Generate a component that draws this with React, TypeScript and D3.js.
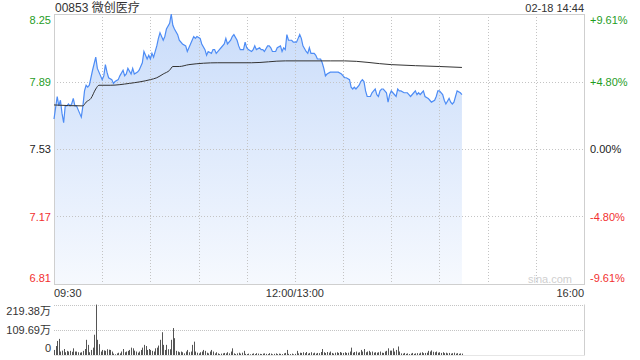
import React from 'react';
import * as d3 from 'd3';

const title = '00853 微创医疗';
const stamp = '02-18 14:44';
const priceTicks = [8.25, 7.89, 7.53, 7.17, 6.81];
const priceTickLabels = ['8.25', '7.89', '7.53', '7.17', '6.81'];
const pctTickLabels = ['+9.61%', '+4.80%', '0.00%', '-4.80%', '-9.61%'];
const timeTickMinutes = [0, 150, 330];
const timeTickLabels = ['09:30', '12:00/13:00', '16:00'];
const gridMinutes = [30, 60, 90, 120, 150, 180, 210, 240, 270, 300];
const volTickValues = [219.38, 109.69, 0];
const volTickLabels = ['219.38万', '109.69万', '0'];

const minutes = [
  0, 2, 3, 4, 5, 6, 7, 8, 9, 10, 11, 12, 13, 14, 16, 17, 18, 19, 20, 21, 22, 24, 26, 27, 29, 30, 31, 32, 33, 34,
  36, 37, 38, 40, 41, 43, 44, 45, 46, 48, 49, 50, 52, 53, 55, 56, 58, 59, 60, 61, 62, 64, 65, 66, 68, 69, 70, 72, 73, 74,
  75, 77, 78, 80, 82, 83, 84, 85, 87, 88, 89, 91, 92, 94, 95, 96, 98, 99, 100, 101, 103, 104, 106, 107, 108, 110, 111, 112, 114, 115,
  116, 118, 119, 120, 121, 123, 124, 125, 126, 128, 129, 130, 131, 133, 134, 135, 136, 138, 139, 141, 142, 143, 144, 145, 146, 148, 149, 150, 151, 152,
  153, 154, 155, 157, 158, 159, 160, 162, 163, 164, 166, 167, 168, 169, 170, 172, 173, 175, 176, 177, 179, 180, 181, 182, 184, 185, 186, 187, 188, 190,
  191, 192, 193, 194, 195, 197, 198, 199, 200, 201, 202, 203, 204, 205, 206, 207, 208, 209, 210, 211, 213, 214, 215, 216, 218, 220, 221, 222, 224, 225,
  226, 227, 228, 229, 230, 231, 233, 234, 235, 237, 238, 239, 240, 242, 243, 244, 246, 247, 248, 249, 250, 251, 253, 254,
];
const prices = [
  7.69, 7.81, 7.76, 7.79, 7.72, 7.67, 7.76, 7.76, 7.77, 7.76, 7.77, 7.8, 7.76, 7.76, 7.72, 7.7, 7.76, 7.84, 7.87, 7.86, 7.87, 7.95, 8.02, 7.96, 7.92, 7.9, 7.92, 7.98, 7.94, 7.91,
  7.9, 7.88, 7.89, 7.9, 7.92, 7.95, 7.92, 7.93, 7.96, 7.93, 7.96, 7.93, 7.94, 7.95, 7.99, 8.05, 8.01, 8.03, 8.01, 8.04, 8.02, 8.08, 8.12, 8.15, 8.11, 8.13, 8.17, 8.2, 8.25, 8.19,
  8.17, 8.14, 8.11, 8.09, 8.08, 8.05, 8.07, 8.09, 8.13, 8.12, 8.13, 8.12, 8.09, 8.06, 8.03, 8.05, 8.04, 8.06, 8.06, 8.04, 8.06, 8.07, 8.09, 8.12, 8.09, 8.11, 8.13, 8.14, 8.11, 8.08,
  8.06, 8.06, 8.1, 8.07, 8.06, 8.05, 8.06, 8.08, 8.06, 8.07, 8.06, 8.06, 8.05, 8.08, 8.08, 8.07, 8.05, 8.05, 8.07, 8.08, 8.05, 8.07, 8.06, 8.14, 8.11, 8.11, 8.1, 8.1, 8.1, 8.12,
  8.14, 8.12, 8.08, 8.05, 8.04, 8.07, 8.04, 8.04, 8.03, 8.01, 8.01, 7.99, 7.96, 7.92, 7.93, 7.94, 7.94, 7.94, 7.94, 7.94, 7.93, 7.92, 7.91, 7.91, 7.9, 7.86, 7.85, 7.86, 7.85, 7.87,
  7.89, 7.9, 7.89, 7.84, 7.81, 7.81, 7.83, 7.84, 7.85, 7.82, 7.81, 7.84, 7.85, 7.85, 7.84, 7.83, 7.78, 7.82, 7.84, 7.83, 7.81, 7.85, 7.84, 7.84, 7.83, 7.83, 7.82, 7.81, 7.83, 7.84,
  7.82, 7.83, 7.82, 7.83, 7.84, 7.81, 7.8, 7.79, 7.78, 7.79, 7.81, 7.84, 7.84, 7.82, 7.79, 7.77, 7.8, 7.78, 7.77, 7.78, 7.81, 7.84, 7.83, 7.82,
];

const avgMinutes = [0, 18, 20, 23, 26, 28, 35, 47, 60, 64, 68, 72, 74, 78, 84, 102, 123, 144, 172, 181, 210, 240, 254];
const avgPrices = [7.765, 7.76, 7.78, 7.8, 7.85, 7.87, 7.87, 7.88, 7.9, 7.91, 7.93, 7.95, 7.97, 7.97, 7.98, 7.99, 7.99, 8.0, 8.0, 8.0, 7.98, 7.97, 7.965];

const volumes = [
  22, 39, 61, 70, 15, 19, 26, 12, 18, 15,
  18, 14, 29, 15, 15, 12, 10, 12, 18, 26,
  66, 44, 12, 22, 32, 88, 219, 66, 47, 15,
  22, 20, 18, 25, 23, 22, 15, 6, 3, 7,
  10, 7, 15, 26, 12, 15, 18, 22, 32, 29,
  19, 15, 10, 15, 22, 32, 44, 39, 22, 26,
  22, 18, 15, 29, 32, 41, 66, 99, 44, 22,
  44, 25, 25, 66, 117, 73, 18, 15, 12, 15,
  12, 7, 15, 22, 12, 15, 44, 58, 15, 10,
  7, 12, 15, 22, 18, 10, 7, 15, 22, 15,
  7, 12, 7, 4, 6, 7, 9, 7, 12, 7,
  15, 29, 7, 4, 7, 10, 6, 10, 18,
  5, 4, 6, 3, 5, 7, 4, 8, 6, 5, 4, 6,
  7, 5, 4, 8, 6, 3, 5, 7, 4, 6, 5, 4, 7, 9, 22,
  5, 4, 6, 3, 5,
  18, 7, 10, 9, 12, 8, 13, 6, 9, 12, 7, 10, 6, 9, 8, 13,
  26, 12, 9, 13,
  10, 15, 9, 6, 10, 12, 9, 13, 10, 9, 12, 9, 10, 15,
  32,
  10, 13, 15, 10, 12,
  22, 15, 26,
  12, 15, 18, 12, 15, 10, 12, 10, 12, 15, 10, 9, 15, 18,
  29, 19, 19, 29, 15, 22, 37,
  15, 7, 6, 9, 5, 7, 4, 6, 9, 5, 7, 8, 6, 10, 12, 8, 9, 10,
  18, 15, 20, 14, 12, 15, 10, 12,
  9, 12, 8, 10, 7, 9, 6, 8, 10, 6, 8, 5, 7, 6,
];

const W = 640;
const H = 360;
const L = 54;
const R = 584;
const T = 14;
const B = 284;
const VT = 304.5;
const VB = 355;
const FONT = '"Liberation Sans", Arial, "Noto Sans CJK SC", sans-serif';

const upColor = '#1f9d1f';
const downColor = '#f23030';
const flatColor = '#222';

export default function App() {
  const x = d3.scaleLinear().domain([0, 330]).range([L, R]);
  const y = d3.scaleLinear().domain([6.81, 8.25]).range([B, T]);
  const vy = d3.scaleLinear().domain([0, 219.38]).range([VB, VT]);

  const pts = minutes.map((m, i) => [m, prices[i]] as [number, number]);
  const line = d3.line<[number, number]>().x((d) => x(d[0])).y((d) => y(d[1]));
  const area = d3
    .area<[number, number]>()
    .x((d) => x(d[0]))
    .y0(B)
    .y1((d) => y(d[1]));
  const avgPts = avgMinutes.map((m, i) => [m, avgPrices[i]] as [number, number]);
  const avgLine = d3
    .line<[number, number]>()
    .x((d) => x(d[0]))
    .y((d) => y(d[1]))
    .curve(d3.curveMonotoneX);

  const colorFor = (i: number) => (i < 2 ? upColor : i === 2 ? flatColor : downColor);
  const labelDy = (i: number) => (i === 0 ? 10 : i === 4 ? -2 : 4);

  return (
    <svg
      width={W}
      height={H}
      style={{ position: 'absolute', left: 0, top: 0, background: '#fff' }}
      fontFamily={FONT}
    >
      <defs>
        <linearGradient id="fillGrad" gradientUnits="userSpaceOnUse" x1="0" y1={T} x2="0" y2={B}>
          <stop offset="0%" stopColor="#c9dcfa" />
          <stop offset="100%" stopColor="#f6f9fe" />
        </linearGradient>
      </defs>

      <text x={55} y={12} fontSize={12} fill="#333">
        {title}
      </text>
      <text x={R} y={12} fontSize={11} fill="#333" textAnchor="end">
        {stamp}
      </text>

      {/* area and grid */}
      <path d={area(pts) || ''} fill="url(#fillGrad)" />

      {gridMinutes.map((m) => (
        <line
          key={'vg' + m}
          x1={Math.round(x(m)) + 0.5}
          x2={Math.round(x(m)) + 0.5}
          y1={T}
          y2={B}
          stroke="#c4c4c4"
          strokeDasharray="1,2"
        />
      ))}
      {priceTicks.slice(1, 4).map((p) => (
        <line
          key={'hg' + p}
          x1={L}
          x2={R}
          y1={Math.round(y(p)) + 0.5}
          y2={Math.round(y(p)) + 0.5}
          stroke="#c4c4c4"
          strokeDasharray="1,2"
        />
      ))}

      <rect x={L + 0.5} y={T + 0.5} width={R - L} height={B - T} fill="none" stroke="#cfcfcf" />

      <path d={line(pts) || ''} fill="none" stroke="#4d8cf5" strokeWidth={1.2} />
      <path d={avgLine(avgPts) || ''} fill="none" stroke="#333" strokeWidth={1} />

      <text x={572} y={283} fontSize={11} fill="#cfcfcf" textAnchor="end">
        sina.com
      </text>

      {priceTicks.map((p, i) => (
        <text
          key={'pl' + i}
          x={51}
          y={y(p) + labelDy(i)}
          fontSize={11}
          fill={colorFor(i)}
          textAnchor="end"
        >
          {priceTickLabels[i]}
        </text>
      ))}
      {priceTicks.map((p, i) => (
        <text key={'pr' + i} x={590} y={y(p) + labelDy(i)} fontSize={11} fill={colorFor(i)}>
          {pctTickLabels[i]}
        </text>
      ))}

      {timeTickMinutes.map((m, i) => (
        <text
          key={'tl' + i}
          x={x(m)}
          y={297}
          fontSize={11}
          fill="#333"
          textAnchor={i === 0 ? 'start' : i === 2 ? 'end' : 'middle'}
        >
          {timeTickLabels[i]}
        </text>
      ))}

      {/* volume panel */}
      {volTickValues.slice(0, 2).map((v) => (
        <line
          key={'vgl' + v}
          x1={L}
          x2={R}
          y1={Math.round(vy(v)) + 0.5}
          y2={Math.round(vy(v)) + 0.5}
          stroke="#c4c4c4"
          strokeDasharray="1,1"
        />
      ))}
      <line x1={R + 0.5} x2={R + 0.5} y1={VT} y2={VB} stroke="#cfcfcf" />
      <line x1={L} x2={R + 1} y1={VB + 0.5} y2={VB + 0.5} stroke="#e6e6e6" />
      {volumes.map((v, i) => (
        <rect
          key={'vb' + i}
          x={Math.round(x(i))}
          y={vy(v)}
          width={1}
          height={Math.max(0.5, VB - vy(v))}
          fill="#555"
        />
      ))}
      {volTickValues.map((v, i) => (
        <text
          key={'vl' + i}
          x={51}
          y={vy(v) + (i === 0 ? 10 : i === 2 ? -3 : 4)}
          fontSize={11}
          fill="#333"
          textAnchor="end"
        >
          {volTickLabels[i]}
        </text>
      ))}
    </svg>
  );
}
